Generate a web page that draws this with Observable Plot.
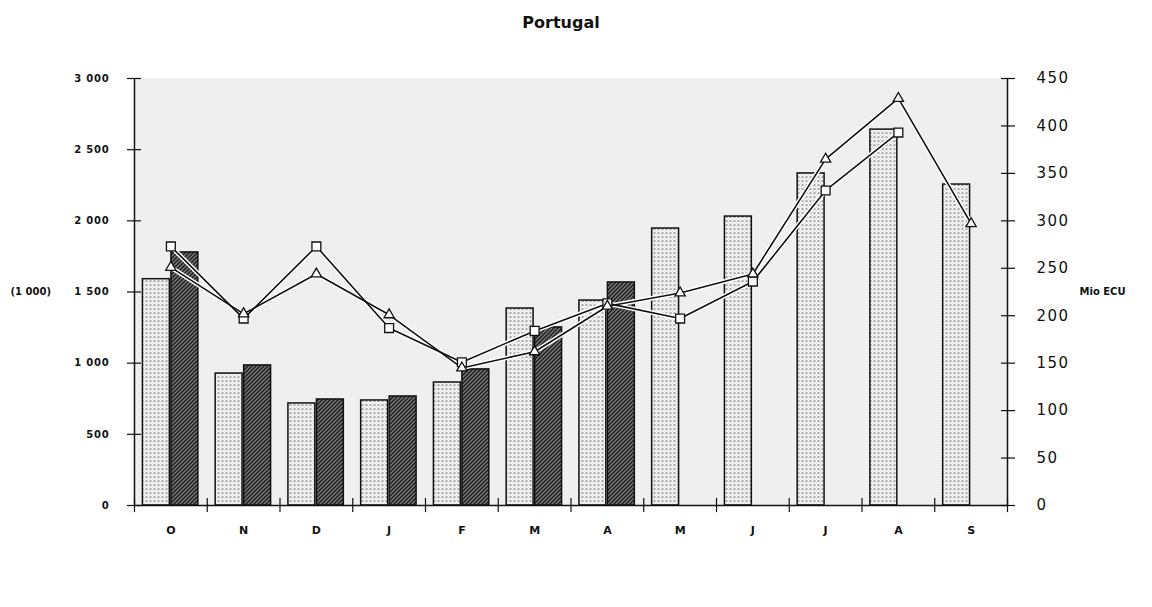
<!DOCTYPE html>
<html><head><meta charset="utf-8">
<script src="https://cdn.jsdelivr.net/npm/d3@7"></script>
<script src="https://cdn.jsdelivr.net/npm/@observablehq/plot@0.6"></script>
<style>
body{margin:0;background:#fff;}
#title{height:40px;text-align:center;width:1122px;font-family:"DejaVu Sans",sans-serif;font-weight:bold;font-size:16px;line-height:46px;color:#111;}
</style></head><body>
<div id="title">Portugal</div>
<div id="chart"></div>
<script>
const monthKeys = ["O1","N1","D1","J1","F1","M1","A1","M2","J2","J3","A2","S1"];
const monthLabels = ["O","N","D","J","F","M","A","M","J","J","A","S"];
const barsLight = [1590, 927, 717, 738, 864, 1384, 1440, 1946, 2030, 2333, 2641, 2255];
const barsDark = [1778, 984, 745, 766, 956, 1251, 1567, null, null, null, null, null];
const lineSquares = [273, 197, 273, 187, 151, 184, 213, 197, 236, 332, 393, null];
const lineTriangles = [251, 202, 244, 201, 145, 162, 210, 224, 244, 365, 429, 297];
const leftTicks = [0, 500, 1000, 1500, 2000, 2500, 3000];
const rightTicks = [0, 50, 100, 150, 200, 250, 300, 350, 400, 450];
const leftLabel = "(1 000)";
const rightLabel = "Mio ECU";

const k = 3000 / 450;
const data = monthKeys.map((key, i) => ({
  key, label: monthLabels[i], light: barsLight[i], dark: barsDark[i],
  sq: lineSquares[i] == null ? null : lineSquares[i] * k,
  tri: lineTriangles[i] == null ? null : lineTriangles[i] * k
}));
const labelOf = Object.fromEntries(data.map(d => [d.key, d.label]));
const fmtLeft = d => d >= 1000 ? `${Math.floor(d / 1000)} ${String(d % 1000).padStart(3, "0")}` : String(d);

const W = 1152, mL = 134, mR = 145;
const step = (W - mL - mR) / monthKeys.length;
const half = step / 2;

const chart = Plot.plot({
  width: W, height: 567,
  marginTop: 38, marginBottom: 102, marginLeft: mL, marginRight: mR,
  style: {background: "transparent", fontFamily: "'DejaVu Sans', sans-serif", color: "#111"},
  x: {domain: monthKeys, paddingInner: 0.63, paddingOuter: 0.315, round: false, axis: null},
  y: {domain: [0, 3000], axis: null},
  marks: [
    Plot.frame({fill: "#efefef", stroke: null}),
    Plot.barY(data, {x: "key", y: "light", dx: -14.5, fill: "url(#dotsLight)", stroke: "#111", strokeWidth: 1.5}),
    Plot.barY(data.filter(d => d.dark != null), {x: "key", y: "dark", dx: 14, fill: "url(#hatchDark)", stroke: "#111", strokeWidth: 1.5}),
    Plot.ruleY([0], {stroke: "#111", strokeWidth: 1.5}),
    Plot.ruleX([monthKeys[0]], {dx: -half, y1: 0, y2: 3000, stroke: "#111", strokeWidth: 1.5}),
    Plot.ruleX([monthKeys[monthKeys.length - 1]], {dx: half, y1: 0, y2: 3000, stroke: "#111", strokeWidth: 1.5}),
    Plot.ruleX(monthKeys, {dx: -half, y1: -50, y2: 50, stroke: "#111", strokeWidth: 1.2}),
    Plot.ruleX([monthKeys[monthKeys.length - 1]], {dx: half, y1: -50, y2: 50, stroke: "#111", strokeWidth: 1.2}),
    Plot.axisY(leftTicks, {anchor: "left", tickSize: 14, dx: 7, tickFormat: () => "", label: null, stroke: "#111", strokeWidth: 1.2}),
    Plot.axisY(leftTicks, {anchor: "left", tickSize: 0, tickPadding: 25, tickFormat: fmtLeft, label: null, fontSize: 10, fontWeight: "bold"}),
    Plot.axisY(rightTicks.map(v => v * k), {anchor: "right", tickSize: 14, dx: -7, tickFormat: () => "", label: null, stroke: "#111", strokeWidth: 1.2}),
    Plot.axisY(rightTicks.map(v => v * k), {anchor: "right", tickSize: 0, tickPadding: 29, tickFormat: d => String(Math.round(d / k)), label: null, fontSize: 15}),
    Plot.axisX({tickSize: 0, tickPadding: 21, tickFormat: d => labelOf[d], label: null, fontSize: 11, fontWeight: "bold"}),
    Plot.text([leftLabel], {frameAnchor: "left", dx: -124, textAnchor: "start", fontSize: 10, fontWeight: "bold"}),
    Plot.text([rightLabel], {frameAnchor: "right", dx: 72, textAnchor: "start", fontSize: 10, fontWeight: "bold"}),
    Plot.line(data, {x: "key", y: "sq", stroke: "white", strokeWidth: 4.5}),
    Plot.line(data, {x: "key", y: "tri", stroke: "white", strokeWidth: 4.5}),
    Plot.line(data, {x: "key", y: "sq", stroke: "#111", strokeWidth: 1.6}),
    Plot.line(data, {x: "key", y: "tri", stroke: "#111", strokeWidth: 1.6}),
    Plot.dot(data, {x: "key", y: "sq", symbol: "square", r: 5, fill: "white", stroke: "#111", strokeWidth: 1.3}),
    Plot.dot(data, {x: "key", y: "tri", symbol: "triangle", r: 3.8, fill: "white", stroke: "#111", strokeWidth: 1.3})
  ]
});

const svg = d3.select(chart);
const defs = svg.insert("defs", ":first-child");
const p1 = defs.append("pattern").attr("id", "dotsLight").attr("patternUnits", "userSpaceOnUse").attr("width", 4).attr("height", 4);
p1.append("rect").attr("width", 4).attr("height", 4).attr("fill", "#f6f6f6");
p1.append("circle").attr("cx", 1).attr("cy", 1).attr("r", 0.85).attr("fill", "#555");
p1.append("circle").attr("cx", 3).attr("cy", 3).attr("r", 0.55).attr("fill", "#aaa");
const p2 = defs.append("pattern").attr("id", "hatchDark").attr("patternUnits", "userSpaceOnUse").attr("width", 4).attr("height", 4);
p2.append("rect").attr("width", 4).attr("height", 4).attr("fill", "#7a7a7a");
p2.append("path").attr("d", "M0,4L4,0M-1,1L1,-1M3,5L5,3").attr("stroke", "#1a1a1a").attr("stroke-width", 1.4);
svg.selectAll('g[aria-label="y-axis tick label"] text').attr("letter-spacing", function () { return this.closest("g").getAttribute("text-anchor") === "start" ? 1.5 : 0.8; });
document.getElementById("chart").appendChild(chart);
</script>
</body></html>
